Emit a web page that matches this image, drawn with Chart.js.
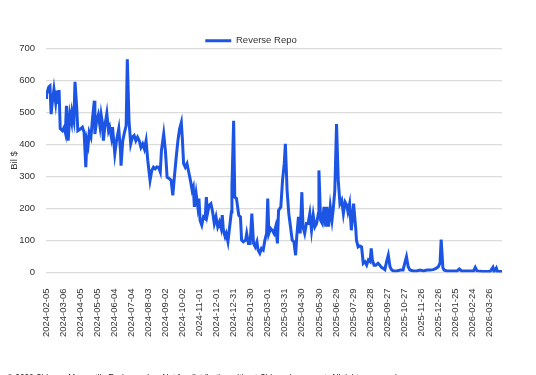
<!DOCTYPE html>
<html><head><meta charset="utf-8">
<script src="https://cdn.jsdelivr.net/npm/chart.js@4/dist/chart.umd.min.js"></script>
<style>html,body{margin:0;padding:0;background:#fff}#wrap{position:relative;width:536px;height:375px}</style>
</head><body><div id="wrap"><canvas id="c"></canvas></div>
<script>
// ---- data ----
const seriesName = 'Reverse Repo';
const yTitle = 'Bil $';
// days since 2024-02-05
const dayOffsets = [0,1,5,7,9,11,14,17,19,21,23,25,29,32,34,36,39,42,45,46,49,51,54,56,61,64,67,70,72,74,76,79,82,85,86,89,92,95,97,99,101,104,107,110,112,115,117,121,124,128,131,132,135,138,141,143,146,149,152,155,158,161,164,167,170,173,176,179,183,186,189,192,195,198,201,203,207,210,213,217,220,223,226,229,232,235,238,240,242,245,248,251,254,257,259,261,264,267,269,271,274,277,280,282,284,287,290,293,296,299,302,305,308,310,312,315,317,320,323,326,327,330,332,335,339,342,344,347,351,353,356,359,362,365,368,371,373,376,379,382,385,388,390,392,395,398,401,404,407,409,413,416,419,421,424,427,430,433,436,439,441,444,447,450,452,455,458,461,464,467,470,473,476,479,480,483,486,489,492,494,497,500,503,505,508,511,514,517,520,523,526,529,531,534,537,541,545,546,549,552,555,558,561,564,567,570,572,574,577,580,584,587,590,593,596,599,602,605,608,611,617,623,628,631,634,637,640,646,652,658,664,670,675,681,686,690,693,695,698,700,705,711,723,727,731,740,752,755,758,769,781,786,788,792,794,802];
const repoValues = [547,557,580,583,495,531,573,531,568,527,570,450,443,454,438,521,412,495,469,500,474,596,516,443,449,454,438,329,412,397,438,423,485,537,433,474,493,456,493,470,412,464,497,443,454,423,454,371,412,449,381,334,412,438,459,666,474,402,423,428,412,423,412,391,402,386,412,350,288,319,329,324,330,329,314,381,433,381,298,293,288,241,303,360,412,449,469,412,340,329,340,314,288,257,267,205,247,205,231,163,148,174,169,236,184,210,215,190,153,174,143,158,138,179,132,112,122,96,143,189,267,474,236,231,179,174,101,96,101,122,91,91,184,91,80,96,70,60,75,70,101,122,231,122,138,132,122,143,91,194,205,288,340,402,257,184,143,101,96,54,112,174,122,251,143,122,153,153,184,132,179,143,153,184,319,163,153,205,143,205,143,205,163,194,257,464,288,215,226,184,220,210,190,215,132,215,132,101,80,83,80,29,34,23,39,34,75,39,23,23,29,23,16,13,9,34,54,18,8,5,5,8,8,29,49,18,8,5,5,8,5,8,8,9,13,18,29,103,15,8,5,5,5,11,5,5,5,16,5,3,3,16,3,14,3,3];
const tickLabels = ['2024-02-05','2024-03-06','2024-04-05','2024-05-05','2024-06-04','2024-07-04','2024-08-03','2024-09-02','2024-10-02','2024-11-01','2024-12-01','2024-12-31','2025-01-30','2025-03-01','2025-03-31','2025-04-30','2025-05-30','2025-06-29','2025-07-29','2025-08-28','2025-09-27','2025-10-27','2025-11-26','2025-12-26','2026-01-25','2026-02-24','2026-03-26'];
const footnote = '\u00A9 2026 Chicago Mercantile Exchange Inc. Not for distribution without Chicago\u2019s consent. All rights reserved.';

const FONT = '"Liberation Sans", Arial, sans-serif';
const points = dayOffsets.map((d, i) => ({x: d, y: repoValues[i]}));

const footPlugin = {
  id: 'foot',
  afterDraw(chart) {
    const ctx = chart.ctx;
    ctx.save();
    ctx.font = '11px ' + FONT;
    ctx.fillStyle = '#222';
    ctx.textBaseline = 'top';
    ctx.fillText(footnote, 7, 373, 392);
    ctx.restore();
  }
};

const chart = new Chart(document.getElementById('c'), {
  type: 'line',
  data: { datasets: [{
    label: seriesName,
    data: points,
    borderColor: 'rgb(28,84,228)',
    backgroundColor: 'rgb(28,84,228)',
    borderWidth: 3,
    pointRadius: 0,
    tension: 0,
    fill: false
  }]},
  options: {
    responsive: true,
    maintainAspectRatio: false,
    animation: false,
    layout: { padding: { top: 32, left: 0, right: 34, bottom: 0 } },
    plugins: {
      legend: {
        display: true,
        position: 'top',
        labels: {
          usePointStyle: true,
          pointStyle: 'line',
          pointStyleWidth: 26,
          padding: 4,
          color: '#333',
          font: { family: FONT, size: 9.5 }
        }
      },
      tooltip: { enabled: false }
    },
    scales: {
      x: {
        type: 'linear',
        min: 0,
        max: 802,
        afterFit(s) { s.height = 102.5; },
        grid: { display: false },
        border: { display: false },
        ticks: {
          stepSize: 30,
          includeBounds: false,
          autoSkip: false,
          maxRotation: 90,
          minRotation: 90,
          padding: 8,
          color: '#333',
          font: { family: FONT, size: 9.5 },
          callback: (v) => (v % 30 === 0 ? (tickLabels[v / 30] || '') : '')
        }
      },
      y: {
        min: 0,
        max: 700,
        afterFit(s) { s.width = 46; },
        border: { display: false },
        grid: { color: '#dcdcdc', lineWidth: 1.2, drawTicks: false },
        ticks: {
          stepSize: 100,
          padding: 11,
          color: '#333',
          font: { family: FONT, size: 9.5 }
        },
        title: {
          display: true,
          text: yTitle,
          color: '#333',
          padding: { top: 9, bottom: 0 },
          font: { family: FONT, size: 9.5 }
        }
      }
    }
  },
  plugins: [footPlugin]
});
const lg = chart.legend;
const origFit = lg.fit.bind(lg);
lg.fit = function () { origFit(); this.height = Math.max(0, this.height - 7); };
chart.update();
</script></body></html>
